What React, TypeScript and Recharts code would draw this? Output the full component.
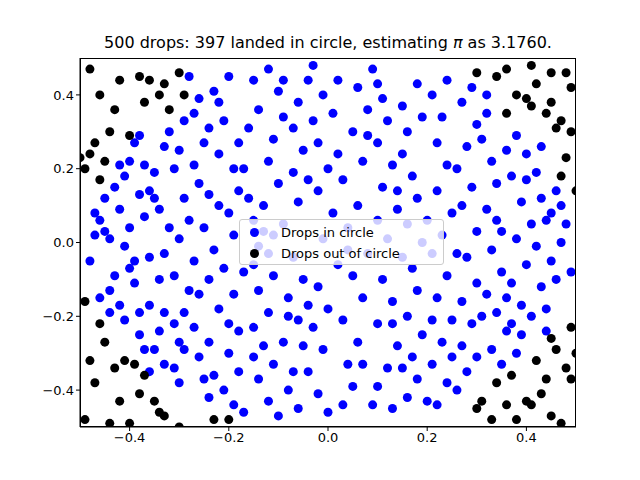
import { ScatterChart, Scatter, XAxis, YAxis } from "recharts";

const title = "500 drops: 397 landed in circle, estimating ";
const ticks = [-0.4, -0.2, 0, 0.2, 0.4];

const inside: [number, number][] = [
  [-0.47,0.02],[-0.45,0.03],[-0.44,0.01],[-0.46,-0.15],[-0.44,-0.19],[-0.42,-0.17],[-0.45,0.12],[-0.43,0.15],[-0.41,0.18],[-0.42,0.21],
  [-0.40,0.22],[-0.39,0.27],[-0.38,0.29],[-0.37,0.21],[-0.36,0.14],[-0.35,0.12],[-0.34,0.09],[-0.37,0.07],[-0.39,-0.05],[-0.40,-0.07],
  [-0.39,-0.11],[-0.41,-0.21],[-0.38,-0.19],[-0.36,-0.17],[-0.38,-0.25],[-0.35,-0.29],[-0.33,-0.33],[-0.36,-0.35],[-0.31,-0.34],[-0.30,-0.38],
  [-0.33,-0.19],[-0.31,-0.22],[-0.29,-0.19],[-0.27,-0.23],[-0.34,-0.10],[-0.31,-0.09],[-0.33,-0.03],[-0.30,0.01],[-0.32,0.04],[-0.28,0.06],
  [-0.31,0.20],[-0.33,0.26],[-0.32,0.30],[-0.29,0.33],[-0.27,0.35],[-0.26,0.39],[-0.28,0.45],[-0.23,0.41],[-0.22,0.38],[-0.21,0.33],
  [-0.25,0.27],[-0.27,0.21],[-0.26,0.16],[-0.24,0.13],[-0.22,0.10],[-0.25,0.04],[-0.23,-0.02],[-0.27,-0.05],[-0.24,-0.10],[-0.26,-0.14],
  [-0.22,-0.18],[-0.24,-0.27],[-0.26,-0.31],[-0.23,-0.36],[-0.21,-0.40],[-0.24,-0.42],[-0.19,-0.44],[-0.17,-0.46],[-0.20,-0.30],[-0.18,-0.24],
  [-0.19,-0.14],[-0.17,-0.08],[-0.19,0.02],[-0.20,0.08],[-0.18,0.14],[-0.17,0.20],[-0.18,0.27],[-0.16,0.31],[-0.14,0.36],[-0.15,0.44],
  [-0.12,0.47],[-0.10,0.41],[-0.09,0.34],[-0.11,0.28],[-0.12,0.22],[-0.10,0.16],[-0.13,0.10],[-0.15,0.06],[-0.13,0.03],[-0.14,-0.01],
  [-0.12,-0.03],[-0.15,-0.06],[-0.11,-0.09],[-0.14,-0.13],[-0.12,-0.19],[-0.15,-0.23],[-0.13,-0.28],[-0.11,-0.33],[-0.14,-0.37],[-0.12,-0.43],
  [-0.10,-0.47],[-0.08,-0.40],[-0.07,-0.35],[-0.09,-0.27],[-0.06,-0.21],[-0.08,-0.15],[-0.05,-0.10],[-0.07,-0.04],[-0.09,0.05],[-0.06,0.11],
  [-0.07,0.19],[-0.05,0.25],[-0.07,0.31],[-0.06,0.38],[-0.04,0.44],[-0.03,0.48],[-0.01,0.40],[-0.03,0.33],[-0.02,0.27],[0.00,0.20],
  [-0.02,0.14],[0.01,0.08],[-0.01,0.01],[0.02,-0.06],[-0.02,-0.12],[0.00,-0.18],[-0.03,-0.23],[-0.01,-0.29],[-0.04,-0.35],[-0.02,-0.41],
  [0.00,-0.46],[0.03,-0.44],[0.05,-0.39],[0.04,-0.33],[0.06,-0.27],[0.03,-0.21],[0.07,-0.15],[0.05,-0.09],[0.08,-0.03],[0.04,0.04],
  [0.06,0.10],[0.03,0.17],[0.07,0.22],[0.02,0.24],[0.05,0.30],[0.08,0.36],[0.06,0.42],[0.09,0.47],[0.11,0.39],[0.12,0.33],
  [0.10,0.27],[0.13,0.21],[0.11,0.15],[0.14,0.09],[0.10,0.06],[0.12,0.01],[0.15,-0.04],[0.11,-0.10],[0.13,-0.16],[0.10,-0.22],
  [0.14,-0.28],[0.12,-0.34],[0.10,-0.39],[0.13,-0.45],[0.16,-0.42],[0.18,-0.37],[0.17,-0.31],[0.19,-0.25],[0.16,-0.20],[0.18,-0.13],
  [0.17,-0.07],[0.19,0.00],[0.16,0.05],[0.18,0.12],[0.17,0.18],[0.15,0.24],[0.16,0.30],[0.15,0.37],[0.18,0.43],[0.21,0.40],
  [0.23,0.34],[0.22,0.27],[0.24,0.21],[0.22,0.14],[0.25,0.08],[0.23,0.02],[0.21,-0.03],[0.24,-0.09],[0.22,-0.15],[0.25,-0.21],
  [0.23,-0.27],[0.21,-0.33],[0.24,-0.38],[0.22,-0.44],[0.26,-0.40],[0.28,-0.35],[0.27,-0.28],[0.29,-0.22],[0.27,-0.16],[0.30,-0.11],
  [0.28,-0.04],[0.30,0.03],[0.27,0.10],[0.29,0.15],[0.26,0.20],[0.28,0.26],[0.30,0.32],[0.27,0.38],[0.32,0.40],[0.31,0.28],
  [0.33,0.22],[0.34,0.16],[0.32,0.09],[0.35,0.03],[0.33,-0.02],[0.35,-0.08],[0.32,-0.14],[0.34,-0.19],[0.36,-0.24],[0.33,-0.29],
  [0.35,-0.33],[0.38,-0.30],[0.37,-0.22],[0.39,-0.17],[0.37,-0.11],[0.40,-0.06],[0.38,0.01],[0.41,0.05],[0.39,0.11],[0.37,0.18],
  [0.40,0.24],[0.38,0.29],[0.42,0.19],[0.43,0.12],[0.44,0.06],[0.42,-0.01],[0.45,-0.05],[0.43,-0.12],[0.41,-0.20],[0.44,-0.18],
  [0.46,-0.10],[0.47,0.00],[0.48,0.05],[0.47,0.10],[0.49,-0.08],[0.46,0.14],[-0.48,-0.05],[-0.47,0.08],[-0.43,-0.09],[-0.42,0.09],
  [-0.41,-0.01],[-0.38,0.13],[-0.35,0.19],[-0.34,-0.24],[-0.37,-0.29],[-0.29,-0.29],[-0.28,-0.13],[-0.29,0.12],[-0.30,0.25],[-0.24,0.31],
  [-0.20,0.45],[-0.19,0.20],[-0.21,-0.07],[-0.20,-0.22],[-0.18,-0.35],[-0.15,-0.31],[-0.16,0.12],[-0.11,0.02],[-0.08,-0.20],[-0.04,-0.17],
  [-0.05,-0.28],[-0.06,-0.45],[-0.09,0.44],[-0.04,0.17],[0.01,0.35],[0.02,0.44],[0.04,-0.02],[0.07,-0.33],[0.09,-0.44],[0.08,0.29],
  [0.10,0.43],[0.13,-0.22],[0.14,0.14],[0.15,-0.34],[0.19,0.34],[0.20,-0.43],[0.20,0.06],[0.21,-0.21],[0.24,0.44],[0.25,-0.31],
  [0.26,-0.03],[0.29,0.42],[0.30,-0.31],[0.31,-0.20],[0.32,0.35],[0.34,0.06],[0.36,-0.15],[0.36,0.25],[0.39,-0.25],[0.40,0.17],
  [0.43,0.26],[0.44,-0.24],[0.45,0.08],[-0.46,0.06],[-0.44,-0.13],[-0.40,0.04],[-0.36,-0.04],[-0.30,-0.27],[-0.25,-0.37],[-0.22,0.24],
];

const outside: [number, number][] = [
  [-0.48,0.47],[-0.46,0.40],[-0.42,0.44],[-0.38,0.45],[-0.36,0.44],[-0.33,0.43],[-0.30,0.46],[-0.29,0.40],[-0.32,0.36],[-0.43,0.36],
  [-0.40,0.29],[-0.47,0.27],[-0.50,0.23],[-0.49,0.20],[-0.46,0.17],[-0.45,0.22],[-0.44,0.30],[-0.37,0.38],[-0.34,0.40],[-0.48,0.24],
  [0.30,0.46],[0.34,0.45],[0.36,0.47],[0.40,0.39],[0.41,0.37],[0.42,0.43],[0.41,0.48],[0.45,0.46],[0.48,0.46],[0.49,0.42],
  [0.44,0.35],[0.46,0.31],[0.45,0.38],[0.47,0.33],[0.49,0.30],[0.48,0.23],[0.50,0.14],[0.47,0.18],[0.38,0.40],[0.36,0.35],
  [-0.49,-0.48],[-0.47,-0.38],[-0.48,-0.32],[-0.45,-0.27],[-0.46,-0.22],[-0.49,-0.16],[-0.43,-0.34],[-0.41,-0.32],[-0.39,-0.33],[-0.37,-0.36],
  [-0.35,-0.43],[-0.34,-0.46],[-0.33,-0.47],[-0.30,-0.50],[-0.44,-0.49],[-0.40,-0.49],[-0.38,-0.41],[-0.42,-0.43],[-0.23,-0.48],[-0.20,-0.48],
  [0.30,-0.45],[0.31,-0.43],[0.33,-0.48],[0.34,-0.38],[0.37,-0.36],[0.40,-0.43],[0.41,-0.44],[0.43,-0.41],[0.44,-0.37],[0.45,-0.47],
  [0.47,-0.49],[0.48,-0.34],[0.49,-0.37],[0.50,-0.30],[0.49,-0.23],[0.46,-0.29],[0.45,-0.26],[0.42,-0.32],[0.38,-0.48],[0.36,-0.44],
];

const inData = inside.map(([x, y]) => ({ x, y }));
const outData = outside.map(([x, y]) => ({ x, y }));

const fmt = (v: number) => (v < 0 ? "\u2212" + Math.abs(v).toFixed(1) : v.toFixed(1));
const font = "DejaVu Sans, sans-serif";
const Dot = (color: string) => (p: any) => <circle cx={p.cx} cy={p.cy} r={4.5} fill={color} />;

export default function App() {
  return (
    <div style={{ position: "absolute", left: 0, top: 0, width: 640, height: 480, background: "#fff", fontFamily: font }}>
      <div style={{ position: "absolute", top: 33, width: 656, textAlign: "center", fontSize: 16 }}>
        {title}<i>{"\u03c0"}</i>{" as 3.1760."}
      </div>
      <ScatterChart width={640} height={480} margin={{ top: 58, right: 64, bottom: 23, left: 40 }}>
        <XAxis type="number" dataKey="x" domain={[-0.5, 0.5]} ticks={ticks} tickFormatter={fmt} allowDataOverflow
          stroke="#000" tick={{ fill: "#000", fontSize: 13, fontFamily: font }} tickSize={4} height={30} />
        <YAxis type="number" dataKey="y" domain={[-0.5, 0.5]} ticks={ticks} tickFormatter={fmt} allowDataOverflow
          stroke="#000" tick={{ fill: "#000", fontSize: 13, fontFamily: font }} tickSize={4} width={40} />
        <Scatter data={inData} shape={Dot("#0000ff")} isAnimationActive={false} />
        <Scatter data={outData} shape={Dot("#000000")} isAnimationActive={false} />
      </ScatterChart>
      <div style={{ position: "absolute", left: 80, top: 58, width: 496, height: 369, border: "1px solid #000",
        boxSizing: "border-box", pointerEvents: "none" }} />
      <div style={{ position: "absolute", left: 239, top: 219, width: 205, height: 46, background: "rgba(255,255,255,0.8)",
        border: "1px solid #ccc", borderRadius: 3, fontSize: 13, boxSizing: "border-box" }}>
        {[["#0000ff", "Drops in circle"], ["#000", "Drops out of circle"]].map(([c, t], i) => (
          <div key={t} style={{ position: "absolute", left: 10, top: 3 + i * 21, display: "flex", alignItems: "center", height: 18 }}>
            <span style={{ width: 9, height: 9, borderRadius: "50%", background: c, display: "inline-block", marginRight: 22 }} />
            {t}
          </div>
        ))}
      </div>
    </div>
  );
}
